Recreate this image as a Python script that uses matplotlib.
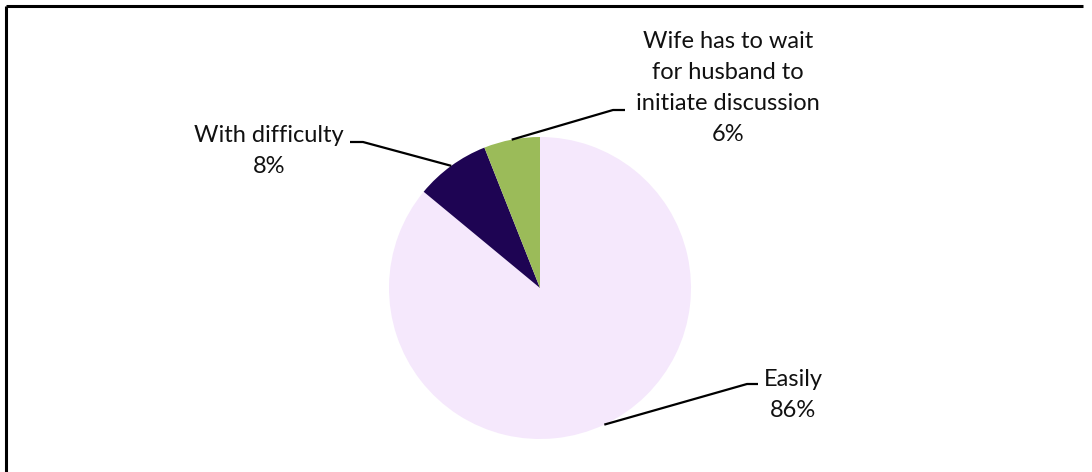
import numpy as np
import matplotlib.pyplot as plt

labels = ['Easily', 'With difficulty', 'Wife has to wait\nfor husband to\ninitiate discussion']
values = [86, 8, 6]
colors = ['#F5E8FC', '#1E0453', '#9BBB59']

# label box centre and elbow of the leader line, in pixels (y measured from top)
label_pos = [(793, 395), (269, 151), (728, 88)]
elbow = [(747, 384, 758), (363, 142, 350), (613, 110, 625)]

W, H = 1092, 472
fig = plt.figure(figsize=(W / 100, H / 100), dpi=100)
ax = fig.add_axes([0, 0, 1, 1])

cx, cy, r = 540, H - 288, 151
wedges, _ = ax.pie(values, colors=colors, startangle=90, counterclock=False,
                   center=(cx, cy), radius=r, frame=True,
                   wedgeprops=dict(linewidth=0))
ax.set_xlim(0, W)
ax.set_ylim(0, H)
ax.set_aspect('equal')
ax.axis('off')

for w, lab, v, (tx, ty), (ex, ey, hx) in zip(wedges, labels, values, label_pos, elbow):
    ang = np.deg2rad((w.theta1 + w.theta2) / 2)
    ax0, ay0 = cx + r * np.cos(ang), cy + r * np.sin(ang)
    ax.plot([ax0, ex, hx], [ay0, H - ey, H - ey], color='black', lw=1.6,
            solid_capstyle='butt')
    ax.text(tx, H - ty, f'{lab}\n{v}%', ha='center', va='center',
            multialignment='center', fontsize=17, family='Lato',
            linespacing=1.6, color='#111111')

# chart frame (top and left edges)
ax.plot([6, 1083], [H - 6, H - 6], color='black', lw=2.2, solid_capstyle='butt')
ax.plot([6, 6], [H - 6, 0], color='black', lw=2.2, solid_capstyle='butt')

fig.savefig('out.png', dpi=100)
